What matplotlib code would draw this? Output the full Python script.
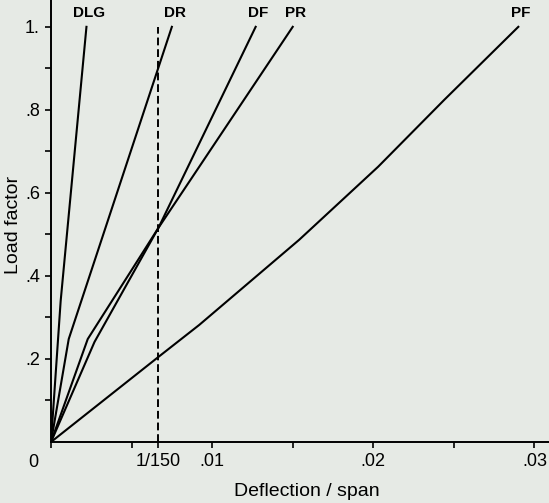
import matplotlib
matplotlib.use("Agg")
from matplotlib import pyplot as plt

plt.rcParams["font.family"] = ["Liberation Sans Narrow", "Liberation Sans", "DejaVu Sans"]

# load-deflection curves (deflection/span, load factor)
dlg_x = [0, 0.0006, 0.0022]
dlg_y = [0, 0.34, 1.0]
dr_x = [0, 0.0011, 0.0075]
dr_y = [0, 0.248, 1.0]
df_x = [0, 0.00228, 0.00667, 0.0127]
df_y = [0, 0.248, 0.516, 1.0]
pr_x = [0, 0.0027, 0.00667, 0.0150]
pr_y = [0, 0.241, 0.516, 1.0]
pf_x = [0, 0.00667, 0.0092, 0.0154, 0.0203, 0.0244, 0.0290]
pf_y = [0, 0.205, 0.282, 0.487, 0.663, 0.824, 1.0]
curve_names = ["DLG", "DR", "DF", "PR", "PF"]

limit_defl = 1 / 150
x_ticks = [0, 0.005, 0.01, 0.015, 0.02, 0.025, 0.03]
x_tick_labels = ["", "", ".01", "", ".02", "", ".03"]
y_ticks = [0.1, 0.2, 0.3, 0.4, 0.5, 0.6, 0.7, 0.8, 0.9, 1.0]
y_tick_labels = ["", ".2", "", ".4", "", ".6", "", ".8", "", "1."]

bg = "#e6eae5"
fig = plt.figure(figsize=(5.49, 5.03), dpi=100, facecolor=bg)
ax = fig.add_axes([0.0929, 0.1213, 0.907, 0.879])
ax.set_facecolor(bg)

curves = [(dlg_x, dlg_y), (dr_x, dr_y), (df_x, df_y), (pr_x, pr_y), (pf_x, pf_y)]
for (xs, ys), name in zip(curves, curve_names):
    ax.plot(xs, ys, color="black", lw=1.5, solid_joinstyle="miter")
    ax.annotate(name, xy=(xs[-1], ys[-1]), xytext=(2, 10), textcoords="offset points",
                ha="center", va="center", fontsize=11, fontweight="bold")

ax.vlines(limit_defl, 0, 1.0, colors="black", linestyles=(0, (4, 2)), lw=1.4)

ax.set_xlim(0, 0.0309)
ax.set_ylim(0, 1.065)
for s in ["top", "right"]:
    ax.spines[s].set_visible(False)
for s in ["left", "bottom"]:
    ax.spines[s].set_linewidth(1.4)

ax.set_xticks(x_ticks + [limit_defl])
ax.set_xticklabels(x_tick_labels + ["1/150"])
ax.set_yticks(y_ticks)
ax.set_yticklabels(y_tick_labels)
ax.tick_params(length=4, width=1.2, labelsize=13, pad=4)
ax.annotate("0", xy=(0, 0), xytext=(-13, -15), textcoords="offset points",
            ha="center", va="center", fontsize=13)

ax.set_xlabel("Deflection / span", fontsize=14)
ax.set_ylabel("Load factor", fontsize=14)
ax.xaxis.set_label_coords(0.514, -0.092)
ax.yaxis.set_label_coords(-0.058, 0.49)

fig.savefig("out.png", dpi=100, facecolor=bg)
